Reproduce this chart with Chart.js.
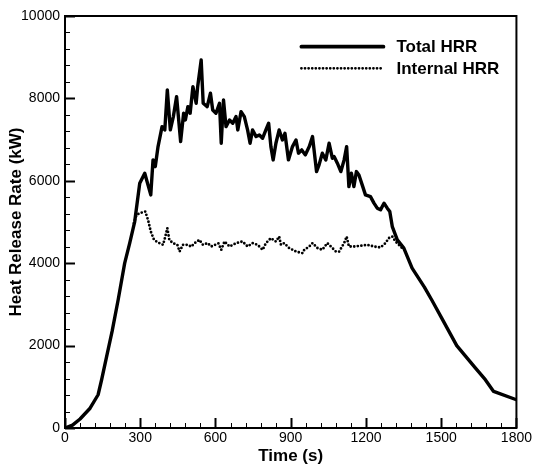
<!DOCTYPE html>
<html><head><meta charset="utf-8">
<script src="https://cdn.jsdelivr.net/npm/chart.js@4.4.1/dist/chart.umd.min.js"></script>
<style>html,body{margin:0;padding:0;background:#fff}canvas{display:block}</style>
</head><body>
<canvas id="c" width="534" height="470"></canvas>
<script>
// ---- data ----
const seriesNames = ['Total HRR', 'Internal HRR'];
const timeTotal = [0,30,60,100,132,146,170,188,212,238,258,278,298,318,342,351,360,371,387,398,408,420,432,445,461,473,480,490,499,510,523,529,543,551,567,580,589,602,616,623,632,642,656,669,682,689,702,715,728,738,748,762,775,788,801,812,821,830,841,854,867,877,891,907,921,931,944,958,974,987,1003,1013,1026,1040,1053,1066,1073,1086,1100,1113,1123,1132,1142,1152,1162,1172,1185,1198,1218,1232,1245,1258,1272,1285,1295,1305,1325,1351,1384,1433,1463,1501,1562,1636,1676,1709,1800];
const hrrTotal = [0,70,218,480,807,1171,1850,2350,3112,4002,4487,5011,5942,6185,5658,6507,6345,6830,7315,7235,8205,7235,7558,8043,6951,7640,7477,7800,7640,8285,7882,8285,8932,7882,7800,8125,7720,7640,7882,6912,7962,7315,7477,7397,7558,7235,7679,7558,7235,6912,7235,7073,7113,7033,7235,7397,6830,6507,6912,7235,6992,7154,6507,6830,6992,6670,6750,6629,6830,7073,6224,6386,6670,6507,6912,6548,6588,6427,6224,6507,6830,5860,6184,5860,6224,6143,5901,5658,5617,5457,5336,5295,5457,5336,5254,4890,4567,4366,3881,3420,3100,2680,2000,1460,1172,888,686];
const timeInternal = [275,285,298,311,320,331,342,355,371,391,400,408,416,430,448,457,470,490,503,517,536,550,569,583,600,612,623,636,656,682,708,728,748,768,788,801,821,841,854,861,874,894,921,947,954,974,987,1007,1026,1046,1060,1080,1093,1113,1123,1132,1152,1179,1205,1232,1258,1278,1291,1305,1318,1331,1344];
const hrrInternal = [4972,5173,5214,5239,5254,5052,4769,4567,4502,4446,4647,4851,4567,4487,4446,4283,4446,4446,4400,4487,4567,4446,4487,4406,4450,4480,4325,4527,4405,4487,4527,4405,4487,4446,4325,4487,4608,4527,4647,4446,4487,4366,4283,4244,4325,4405,4487,4366,4325,4487,4405,4283,4283,4487,4647,4405,4405,4422,4446,4405,4382,4487,4608,4647,4527,4446,4366];
const xTickValues = [0,300,600,900,1200,1500,1800];
const yTickValues = [0,2000,4000,6000,8000,10000];
const xMinorStep = 60;
const yMinorStep = 400;

const FONT = "'Liberation Sans', Arial, Helvetica, sans-serif";

const framePlugin = {
  id: 'frame',
  afterDatasetsDraw(chart) {
    const ctx = chart.ctx, a = chart.chartArea;
    const sx = chart.scales.x, sy = chart.scales.y;
    ctx.save();
    ctx.strokeStyle = '#000';
    for (let v = sx.min; v <= sx.max; v += xMinorStep) {
      const major = xTickValues.includes(v);
      const px = Math.round(sx.getPixelForValue(v)) + 0.5;
      ctx.lineWidth = major ? 2 : 1;
      ctx.beginPath();
      ctx.moveTo(px, a.bottom);
      ctx.lineTo(px, a.bottom - (major ? 10 : 5));
      ctx.stroke();
    }
    for (let v = sy.min; v <= sy.max; v += yMinorStep) {
      const major = yTickValues.includes(v);
      const py = Math.round(sy.getPixelForValue(v)) + 0.5;
      ctx.lineWidth = major ? 2 : 1;
      ctx.beginPath();
      ctx.moveTo(a.left, py);
      ctx.lineTo(a.left + (major ? 10 : 5), py);
      ctx.stroke();
    }
    ctx.lineWidth = 2;
    ctx.strokeRect(a.left, a.top, a.right - a.left, a.bottom - a.top);
    // legend
    const ds = chart.data.datasets;
    const lx0 = a.right - 215, lx1 = a.right - 133, tx = a.right - 120;
    const ly = [a.top + 30.7, a.top + 52.3];
    ds.forEach((d, i) => {
      ctx.beginPath();
      ctx.lineWidth = i === 0 ? 3.8 : d.borderWidth;
      ctx.lineCap = d.borderCapStyle || 'butt';
      ctx.setLineDash(d.borderDash || []);
      ctx.moveTo(lx0, ly[i]);
      ctx.lineTo(lx1, ly[i]);
      ctx.stroke();
      ctx.setLineDash([]);
      ctx.fillStyle = '#000';
      ctx.font = 'bold 17px ' + FONT;
      ctx.textBaseline = 'middle';
      ctx.textAlign = 'left';
      ctx.fillText(d.label, tx, ly[i] + 1);
    });
    ctx.restore();
  }
};

new Chart(document.getElementById('c'), {
  type: 'line',
  data: {
    datasets: [
      {
        label: seriesNames[0],
        data: timeTotal.map((t, i) => ({x: t, y: hrrTotal[i]})),
        borderColor: '#000', borderWidth: 3.4, pointRadius: 0,
        borderJoinStyle: 'round', borderCapStyle: 'round', tension: 0, fill: false
      },
      {
        label: seriesNames[1],
        data: timeInternal.map((t, i) => ({x: t, y: hrrInternal[i]})),
        borderColor: '#000', borderWidth: 2.8, pointRadius: 0,
        borderDash: [0, 3.6], borderCapStyle: 'round', tension: 0, fill: false
      }
    ]
  },
  options: {
    responsive: false, animation: false, devicePixelRatio: 1,
    layout: {padding: {top: 16, right: 16, left: 0, bottom: 0}},
    plugins: {legend: {display: false}, tooltip: {enabled: false}},
    scales: {
      x: {
        type: 'linear', min: 0, max: 1800,
        afterBuildTicks(s) { s.ticks = xTickValues.map(v => ({value: v})); },
        afterFit(s) { s.height = 42; },
        grid: {display: false, drawTicks: false}, border: {display: false},
        ticks: {padding: 2, color: '#000', font: {family: FONT, size: 14}, maxRotation: 0, autoSkip: false, callback: v => String(v)},
        title: {display: true, text: 'Time (s)', color: '#000', font: {family: FONT, size: 17, weight: 'bold'}, padding: {top: 0, bottom: 3}}
      },
      y: {
        type: 'linear', min: 0, max: 10000,
        afterBuildTicks(s) { s.ticks = yTickValues.map(v => ({value: v})); },
        afterFit(s) { s.width = 65; },
        grid: {display: false, drawTicks: false}, border: {display: false},
        ticks: {padding: 5, color: '#000', font: {family: FONT, size: 14}, autoSkip: false, callback: v => String(v)},
        title: {display: true, text: 'Heat Release Rate (kW)', color: '#000', font: {family: FONT, size: 17, weight: 'bold'}, padding: {top: 6, bottom: 0}}
      }
    }
  },
  plugins: [framePlugin]
});
</script>
</body></html>
